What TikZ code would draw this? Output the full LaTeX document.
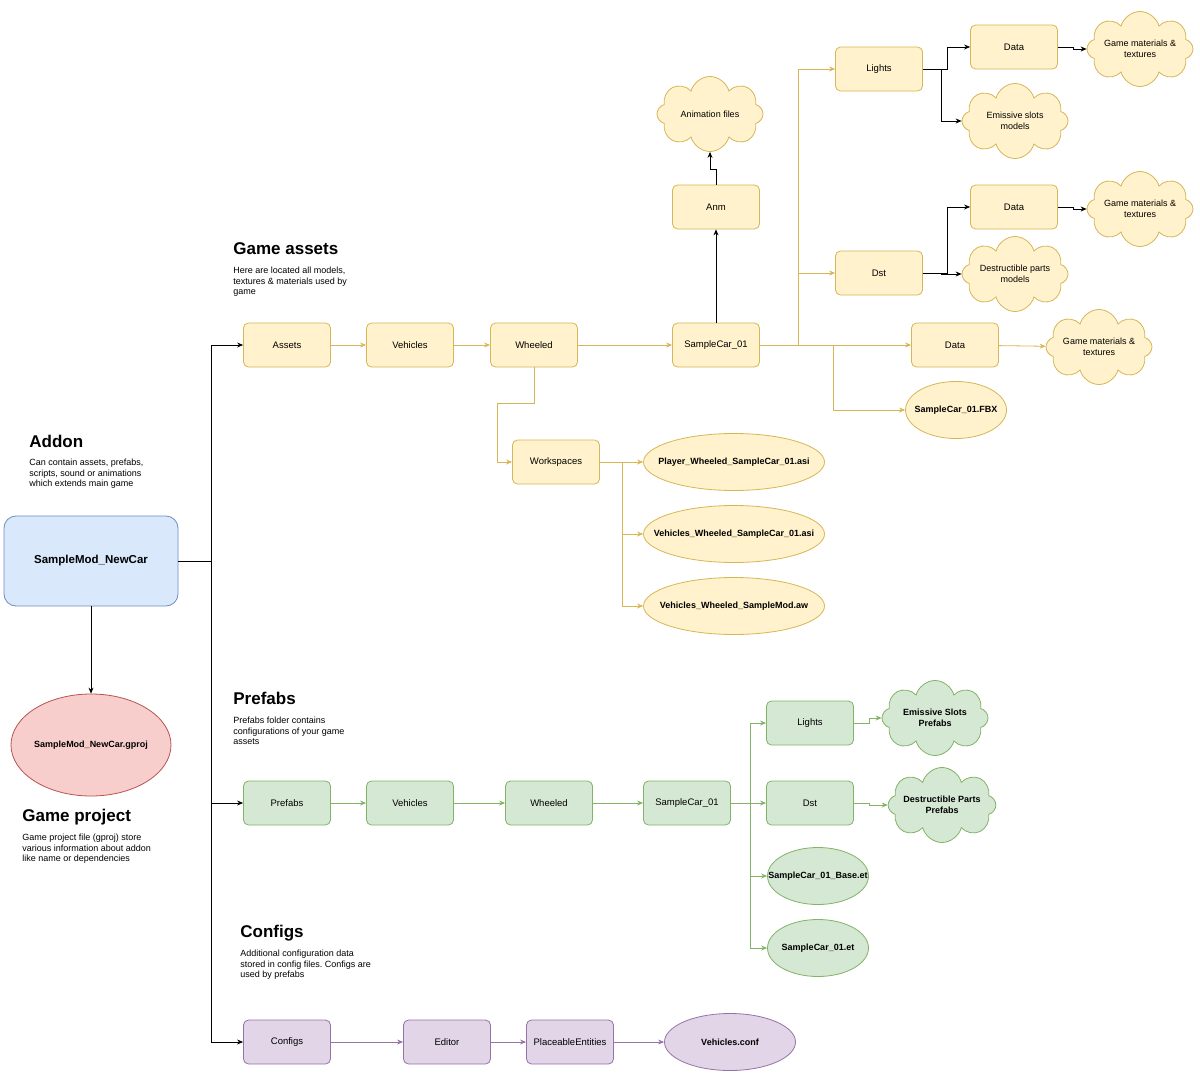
\documentclass[tikz,border=0pt]{standalone}
\usepackage{fontspec}
\setmainfont{Liberation Sans}
\frenchspacing
\usetikzlibrary{shapes.geometric,shapes.symbols,arrows.meta}
\definecolor{yfill}{HTML}{FFF2CC}
\definecolor{yline}{HTML}{D6B656}
\definecolor{gfill}{HTML}{D5E8D4}
\definecolor{gline}{HTML}{82B366}
\definecolor{pfill}{HTML}{E1D5E7}
\definecolor{pline}{HTML}{9673A6}
\definecolor{bfill}{HTML}{DAE8FC}
\definecolor{bline}{HTML}{6C8EBF}
\definecolor{rfill}{HTML}{F8CECC}
\definecolor{rline}{HTML}{B85450}
\begin{document}
\begin{tikzpicture}[x=1pt, y=-1pt, line width=0.8pt,
		folder/.style={rounded corners=5pt, minimum width=87pt, minimum height=44pt, inner sep=0pt, font=\fontsize{9.5}{11}\selectfont},
		yfolder/.style={folder, draw=yline, fill=yfill},
		gfolder/.style={folder, draw=gline, fill=gfill},
		pfolder/.style={folder, draw=pline, fill=pfill},
		file/.style={ellipse, inner xsep=-30pt, inner ysep=0pt, minimum width=101pt, minimum height=57pt, font=\fontsize{9}{11}\selectfont\bfseries},
		puff/.style={cloud, cloud puffs=8, cloud ignores aspect, minimum width=106pt, minimum height=75pt, inner sep=0pt, align=center, font=\fontsize{9}{10.5}\selectfont},
		heading/.style={anchor=base west, inner sep=0pt, font=\fontsize{17}{20}\selectfont\bfseries},
		note/.style={anchor=north west, inner sep=0pt, align=left, font=\fontsize{9}{10.5}\selectfont},
		tip/.style={-{Stealth[length=6pt, width=5pt]}},
		yarr/.style={tip, draw=yline},
		garr/.style={tip, draw=gline},
		parr/.style={tip, draw=pline},
		barr/.style={tip, draw=black}]
	\useasboundingbox (0,0) rectangle (1200,1076);

	% addon and project
	\node[rounded corners=12pt, draw=bline, fill=bfill, minimum width=174pt, minimum height=90pt, font=\fontsize{11.5}{13}\selectfont\bfseries] (addon) at (91,561) {SampleMod\_NewCar};
	\node[file, draw=rline, fill=rfill, minimum width=160pt, minimum height=102pt] (gproj) at (91,745) {SampleMod\_NewCar.gproj};
	\node[heading] (addonhead) at (29,447) {Addon};
	\node[note] (addonnote) at (29,459) {Can contain assets, prefabs,\\scripts, sound or animations\\which extends main game};
	\node[heading] (projhead) at (22,821) {Game project};
	\node[note] (projnote) at (22,834) {Game project file (gproj) store\\various information about addon\\like name or dependencies};

	% game assets
	\node[heading] (assethead) at (233,254) {Game assets};
	\node[note] (assetnote) at (233,267) {Here are located all models,\\textures \& materials used by\\game};
	\node[yfolder] (assets) at (287,345) {Assets};
	\node[yfolder] (yveh) at (410,345) {Vehicles};
	\node[yfolder] (ywheel) at (534,345) {Wheeled};
	\node[yfolder] (ycar) at (716,345) {SampleCar\_01};
	\node[yfolder] (anm) at (716,207) {Anm};
	\node[puff, draw=yline, fill=yfill] (anim) at (710,114) {Animation files};
	\node[yfolder] (ylights) at (879,69) {Lights};
	\node[yfolder] (ydst) at (879,273) {Dst};
	\node[yfolder] (ldata) at (1014,47) {Data};
	\node[puff, draw=yline, fill=yfill] (lmat) at (1140,49) {Game materials \&\\textures};
	\node[puff, draw=yline, fill=yfill] (emis) at (1015,121) {Emissive slots\\models};
	\node[yfolder] (ddata) at (1014,207) {Data};
	\node[puff, draw=yline, fill=yfill] (dmat) at (1140,209) {Game materials \&\\textures};
	\node[puff, draw=yline, fill=yfill] (dpart) at (1015,274) {Destructible parts\\models};
	\node[yfolder] (cdata) at (955,345) {Data};
	\node[puff, draw=yline, fill=yfill] (cmat) at (1099,347) {Game materials \&\\textures};
	\node[file, draw=yline, fill=yfill] (fbx) at (956,410) {SampleCar\_01.FBX};
	\node[yfolder] (ws) at (556,462) {Workspaces};
	\node[file, draw=yline, fill=yfill, minimum width=181pt] (asi1) at (734,462) {Player\_Wheeled\_SampleCar\_01.asi};
	\node[file, draw=yline, fill=yfill, minimum width=181pt] (asi2) at (734,534) {Vehicles\_Wheeled\_SampleCar\_01.asi};
	\node[file, draw=yline, fill=yfill, minimum width=181pt] (aw) at (734,606) {Vehicles\_Wheeled\_SampleMod.aw};

	% prefabs
	\node[heading] (prefhead) at (233,704) {Prefabs};
	\node[note] (prefnote) at (233,717) {Prefabs folder contains\\configurations of your game\\assets};
	\node[gfolder] (prefabs) at (287,803) {Prefabs};
	\node[gfolder] (gveh) at (410,803) {Vehicles};
	\node[gfolder] (gwheel) at (549,803) {Wheeled};
	\node[gfolder] (gcar) at (687,803) {SampleCar\_01};
	\node[gfolder] (glights) at (810,723) {Lights};
	\node[gfolder] (gdst) at (810,803) {Dst};
	\node[file, draw=gline, fill=gfill] (base) at (818,876) {SampleCar\_01\_Base.et};
	\node[file, draw=gline, fill=gfill] (et) at (818,948) {SampleCar\_01.et};
	\node[puff, draw=gline, fill=gfill, font=\fontsize{9}{10.5}\selectfont\bfseries] (gemis) at (935,718) {Emissive Slots\\Prefabs};
	\node[puff, draw=gline, fill=gfill, font=\fontsize{9}{10.5}\selectfont\bfseries] (gdpart) at (942,805) {Destructible Parts\\Prefabs};

	% configs
	\node[heading] (confhead) at (240,937) {Configs};
	\node[note] (confnote) at (240,950) {Additional configuration data\\stored in config files. Configs are\\used by prefabs};
	\node[pfolder] (configs) at (287,1042) {Configs};
	\node[pfolder] (editor) at (447,1042) {Editor};
	\node[pfolder] (placeable) at (570,1042) {PlaceableEntities};
	\node[file, draw=pline, fill=pfill, minimum width=131pt] (conf) at (730,1042) {Vehicles.conf};

	% black links
	\draw[barr] (addon.south) -- (gproj.north);
	\draw[barr] (addon.east) -- ++(33,0) |- (assets.west);
	\draw[barr] (addon.east) -- ++(33,0) |- (prefabs.west);
	\draw[barr] (addon.east) -- ++(33,0) |- (configs.west);
	\draw[barr] (ycar.north) -- (anm.south);
	\draw[barr] (anm.north) -- ++(0,-15) -| (anim.south);
	\draw[barr] (ylights.east) -- ++(24,0) |- (ldata.west);
	\draw[barr] (ylights.east) -- ++(18,0) |- (emis.west);
	\draw[barr] (ldata.east) -- ++(15,0) |- (lmat.west);
	\draw[barr] (ydst.east) -- ++(24,0) |- (ddata.west);
	\draw[barr] (ydst.east) -- ++(18,0) |- (dpart.west);
	\draw[barr] (ddata.east) -- ++(15,0) |- (dmat.west);

	% yellow links
	\draw[yarr] (assets) -- (yveh);
	\draw[yarr] (yveh) -- (ywheel);
	\draw[yarr] (ywheel) -- (ycar);
	\draw[yarr] (ycar.east) -- ++(38,0) |- (ylights.west);
	\draw[yarr] (ycar.east) -- ++(38,0) |- (ydst.west);
	\draw[yarr] (ycar) -- (cdata);
	\draw[yarr] (cdata) -- (cmat);
	\draw[yarr] (ycar.east) -- ++(73,0) |- (fbx.west);
	\draw[yarr] (ywheel.south) -- ++(0,36) -| ([xshift=-15pt]ws.west) -- (ws.west);
	\draw[yarr] (ws) -- (asi1);
	\draw[yarr] (ws.east) -- ++(22,0) |- (asi2.west);
	\draw[yarr] (ws.east) -- ++(22,0) |- (aw.west);

	% green links
	\draw[garr] (prefabs) -- (gveh);
	\draw[garr] (gveh) -- (gwheel);
	\draw[garr] (gwheel) -- (gcar);
	\draw[garr] (gcar.east) -- ++(19,0) |- (glights.west);
	\draw[garr] (gcar) -- (gdst);
	\draw[garr] (gcar.east) -- ++(19,0) |- (base.west);
	\draw[garr] (gcar.east) -- ++(19,0) |- (et.west);
	\draw[garr] (glights.east) -- ++(15,0) |- (gemis.west);
	\draw[garr] (gdst.east) -- ++(15,0) |- (gdpart.west);

	% purple links
	\draw[parr] (configs) -- (editor);
	\draw[parr] (editor) -- (placeable);
	\draw[parr] (placeable) -- (conf);
\end{tikzpicture}
\end{document}
